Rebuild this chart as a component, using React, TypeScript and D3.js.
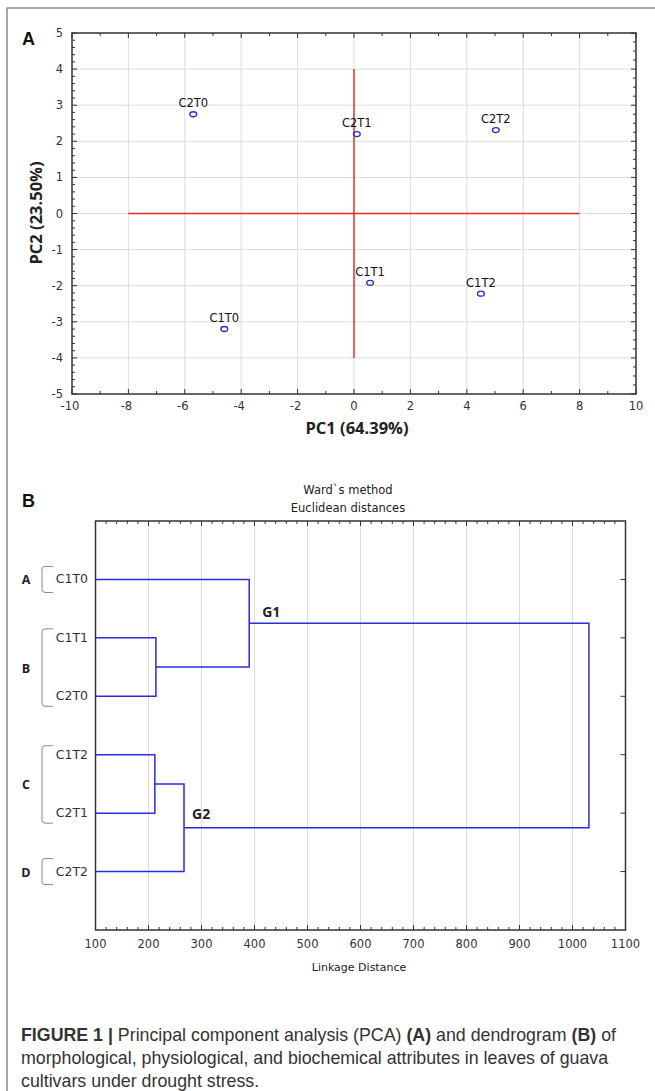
import React, { useEffect, useRef } from 'react';
import * as d3 from 'd3';

// PCA scores (panel A)
const pcaLabels = ['C2T0', 'C2T1', 'C2T2', 'C1T1', 'C1T2', 'C1T0'];
const pc1 = [-5.7, 0.1, 5.03, 0.57, 4.5, -4.6];
const pc2 = [2.75, 2.2, 2.31, -1.92, -2.22, -3.2];
const pcaXTicks = [-10, -8, -6, -4, -2, 0, 2, 4, 6, 8, 10];
const pcaYTicks = [-5, -4, -3, -2, -1, 0, 1, 2, 3, 4, 5];

// dendrogram (panel B)
const leaves = ['C1T0', 'C1T1', 'C2T0', 'C1T2', 'C2T1', 'C2T2'];
const mergeIds = ['M1', 'G1', 'M3', 'G2', 'ROOT'];
const mergeLeft = ['C1T1', 'C1T0', 'C1T2', 'M3', 'G1'];
const mergeRight = ['C2T0', 'M1', 'C2T1', 'C2T2', 'G2'];
const mergeHeights = [214, 390, 212, 267, 1031];
const distTicks = [100, 200, 300, 400, 500, 600, 700, 800, 900, 1000, 1100];
const groupNames = ['A', 'B', 'C', 'D'];
const groupFirst = ['C1T0', 'C1T1', 'C1T2', 'C2T2'];
const groupLast = ['C1T0', 'C2T0', 'C2T1', 'C2T2'];

const tickFont = '"DejaVu Sans", Verdana, sans-serif';
const boldFont = '"Open Sans", sans-serif';

const App = () => {
  const svgRef = useRef<SVGSVGElement>(null);

  useEffect(() => {
    const svg = d3.select(svgRef.current);
    svg.selectAll('*').remove();

    svg.append('rect').attr('width', 655).attr('height', 1091).attr('fill', '#fff');

    // outer frame (top + left)
    svg.append('path')
      .attr('d', 'M7,1091 V8 H655')
      .attr('fill', 'none')
      .attr('stroke', '#8a8a8a')
      .attr('stroke-width', 1.5);

    // ---------------- Panel A ----------------
    const a = { left: 72, right: 636, top: 33, bottom: 394 };
    const x = d3.scaleLinear().domain([-10, 10]).range([a.left, a.right]);
    const y = d3.scaleLinear().domain([-5, 5]).range([a.bottom, a.top]);
    const gA = svg.append('g');

    // grid
    gA.selectAll('.vgrid').data(pcaXTicks.slice(1, -1)).enter().append('line')
      .attr('x1', d => x(d)).attr('x2', d => x(d))
      .attr('y1', a.top).attr('y2', a.bottom)
      .attr('stroke', '#dcdcdc').attr('stroke-width', 1);
    gA.selectAll('.hgrid').data(pcaYTicks.slice(1, -1)).enter().append('line')
      .attr('y1', d => y(d)).attr('y2', d => y(d))
      .attr('x1', a.left).attr('x2', a.right)
      .attr('stroke', '#dcdcdc').attr('stroke-width', 1);

    // minor / major ticks
    d3.range(-10, 10.01, 1).forEach(v => {
      const len = v % 2 === 0 ? 5 : 3;
      gA.append('line').attr('x1', x(v)).attr('x2', x(v)).attr('y1', a.bottom).attr('y2', a.bottom - len).attr('stroke', '#333');
      gA.append('line').attr('x1', x(v)).attr('x2', x(v)).attr('y1', a.top).attr('y2', a.top + len).attr('stroke', '#333');
    });
    d3.range(-5, 5.001, 0.2).forEach(v => {
      const len = Math.abs(v - Math.round(v)) < 0.01 ? 5 : 3;
      gA.append('line').attr('x1', a.left).attr('x2', a.left + len).attr('y1', y(v)).attr('y2', y(v)).attr('stroke', '#333');
    });
    d3.range(-5, 5.001, 0.25).forEach(v => {
      const len = Math.abs(v - Math.round(v)) < 0.01 ? 5 : 3;
      gA.append('line').attr('x1', a.right).attr('x2', a.right - len).attr('y1', y(v)).attr('y2', y(v)).attr('stroke', '#333');
    });

    // frame
    gA.append('rect')
      .attr('x', a.left).attr('y', a.top)
      .attr('width', a.right - a.left).attr('height', a.bottom - a.top)
      .attr('fill', 'none').attr('stroke', '#333').attr('stroke-width', 1.5);

    // red reference lines
    gA.append('line').attr('x1', x(-8)).attr('x2', x(8)).attr('y1', y(0)).attr('y2', y(0))
      .attr('stroke', '#e3262b').attr('stroke-width', 1.4);
    gA.append('line').attr('x1', x(0)).attr('x2', x(0)).attr('y1', y(-4)).attr('y2', y(4))
      .attr('stroke', '#e3262b').attr('stroke-width', 1.4);

    // tick labels
    gA.selectAll('.xl').data(pcaXTicks).enter().append('text')
      .attr('x', d => x(d) + (d < 0 ? -2 : 0)).attr('y', a.bottom + 16)
      .attr('text-anchor', 'middle')
      .style('font-family', tickFont).style('font-size', '11.5px').style('fill', '#333')
      .text(d => d);
    gA.selectAll('.yl').data(pcaYTicks).enter().append('text')
      .attr('x', a.left - 9).attr('y', d => y(d) + 4)
      .attr('text-anchor', 'end')
      .style('font-family', tickFont).style('font-size', '11.5px').style('fill', '#333')
      .text(d => d);

    // points
    const pts = gA.selectAll('.pt').data(pcaLabels).enter().append('g');
    pts.append('ellipse')
      .attr('cx', (d, i) => x(pc1[i])).attr('cy', (d, i) => y(pc2[i]))
      .attr('rx', 3.4).attr('ry', 2.5)
      .attr('fill', 'none').attr('stroke', '#2a2ad8').attr('stroke-width', 1.3);
    pts.append('text')
      .attr('x', (d, i) => x(pc1[i])).attr('y', (d, i) => y(pc2[i]) - 7)
      .attr('text-anchor', 'middle')
      .style('font-family', tickFont).style('font-size', '11.5px').style('fill', '#111')
      .text(d => d);

    // axis titles
    svg.append('text')
      .attr('x', 357).attr('y', 434)
      .attr('text-anchor', 'middle')
      .style('font-family', boldFont).style('font-weight', 'bold').style('font-size', '16.5px').style('fill', '#222')
      .text('PC1 (64.39%)');
    svg.append('text')
      .attr('transform', 'translate(42,213) rotate(-90)')
      .attr('text-anchor', 'middle')
      .style('font-family', boldFont).style('font-weight', 'bold').style('font-size', '16.5px').style('fill', '#222')
      .text('PC2 (23.50%)');
    svg.append('text')
      .attr('x', 22).attr('y', 45)
      .style('font-family', '"Liberation Sans", Arial, sans-serif').style('font-weight', 'bold').style('font-size', '18px').style('fill', '#111')
      .text('A');

    // ---------------- Panel B ----------------
    const b = { left: 95.5, right: 625.5, top: 521, bottom: 930 };
    const xB = d3.scaleLinear().domain([100, 1100]).range([b.left, b.right]);
    const yB = d3.scalePoint<string>().domain(leaves).range([b.top, b.bottom]).padding(1);
    const gB = svg.append('g');

    gB.selectAll('.bgrid').data(distTicks.slice(1, -1)).enter().append('line')
      .attr('x1', d => xB(d)).attr('x2', d => xB(d))
      .attr('y1', b.top).attr('y2', b.bottom)
      .attr('stroke', '#dcdcdc').attr('stroke-width', 1);

    d3.range(100, 1100.1, 20).forEach(v => {
      const len = v % 100 === 0 ? 5 : 3;
      gB.append('line').attr('x1', xB(v)).attr('x2', xB(v)).attr('y1', b.top).attr('y2', b.top + len).attr('stroke', '#333');
      gB.append('line').attr('x1', xB(v)).attr('x2', xB(v)).attr('y1', b.bottom).attr('y2', b.bottom - len).attr('stroke', '#333');
    });
    leaves.forEach(l => {
      gB.append('line').attr('x1', b.right).attr('x2', b.right - 5).attr('y1', yB(l)).attr('y2', yB(l)).attr('stroke', '#333');
    });

    gB.append('rect')
      .attr('x', b.left).attr('y', b.top)
      .attr('width', b.right - b.left).attr('height', b.bottom - b.top)
      .attr('fill', 'none').attr('stroke', '#333').attr('stroke-width', 1.5);

    // tree
    const nodeX: Record<string, number> = {};
    const nodeY: Record<string, number> = {};
    leaves.forEach(l => { nodeX[l] = 100; nodeY[l] = yB(l) as number; });
    mergeIds.forEach((id, i) => {
      nodeX[id] = mergeHeights[i];
      nodeY[id] = (nodeY[mergeLeft[i]] + nodeY[mergeRight[i]]) / 2;
    });
    const links = mergeIds.map((id, i) => {
      const l = mergeLeft[i];
      const r = mergeRight[i];
      const mx = xB(nodeX[id]);
      return `M${xB(nodeX[l])},${nodeY[l]}H${mx}V${nodeY[r]}H${xB(nodeX[r])}`;
    });
    gB.selectAll('.link').data(links).enter().append('path')
      .attr('d', d => d)
      .attr('fill', 'none').attr('stroke', '#2b2be0').attr('stroke-width', 1.5);

    // labels
    gB.selectAll('.leaf').data(leaves).enter().append('text')
      .attr('x', 88).attr('y', d => (yB(d) as number) + 4)
      .attr('text-anchor', 'end')
      .style('font-family', tickFont).style('font-size', '12.5px').style('fill', '#333')
      .text(d => d);
    gB.selectAll('.xbl').data(distTicks).enter().append('text')
      .attr('x', d => xB(d)).attr('y', b.bottom + 18)
      .attr('text-anchor', 'middle')
      .style('font-family', tickFont).style('font-size', '11.5px').style('fill', '#333')
      .text(d => d);

    gB.append('text').attr('x', xB(nodeX['G1']) + 13).attr('y', nodeY['G1'] - 6)
      .style('font-family', boldFont).style('font-weight', 'bold').style('font-size', '14px').style('fill', '#222')
      .text('G1');
    gB.append('text').attr('x', xB(nodeX['G2']) + 8).attr('y', nodeY['G2'] - 9)
      .style('font-family', boldFont).style('font-weight', 'bold').style('font-size', '14px').style('fill', '#222')
      .text('G2');

    // group brackets
    groupNames.forEach((g, i) => {
      const single = groupFirst[i] === groupLast[i];
      const y0 = (yB(groupFirst[i]) as number) - (single ? 13 : 9);
      const y1 = (yB(groupLast[i]) as number) + (single ? 13 : 10);
      gB.append('path')
        .attr('d', `M53,${y0} H45 Q42,${y0} 42,${y0 + 3} V${y1 - 3} Q42,${y1} 45,${y1} H53`)
        .attr('fill', 'none').attr('stroke', '#888').attr('stroke-width', 1);
      gB.append('text')
        .attr('x', 26).attr('y', (y0 + y1) / 2 + 5)
        .attr('text-anchor', 'middle')
        .style('font-family', boldFont).style('font-weight', 'bold').style('font-size', '12.5px').style('fill', '#222')
        .text(g);
    });

    svg.append('text').attr('x', 348).attr('y', 494).attr('text-anchor', 'middle')
      .style('font-family', tickFont).style('font-size', '11.5px').style('fill', '#222')
      .text('Ward`s method');
    svg.append('text').attr('x', 348).attr('y', 512).attr('text-anchor', 'middle')
      .style('font-family', tickFont).style('font-size', '11.5px').style('fill', '#222')
      .text('Euclidean distances');
    svg.append('text').attr('x', 359).attr('y', 971).attr('text-anchor', 'middle')
      .style('font-family', tickFont).style('font-size', '11px').style('fill', '#222')
      .text('Linkage Distance');
    svg.append('text')
      .attr('x', 22).attr('y', 507)
      .style('font-family', '"Liberation Sans", Arial, sans-serif').style('font-weight', 'bold').style('font-size', '18px').style('fill', '#111')
      .text('B');

    // caption
    const cap = svg.append('text')
      .style('font-family', '"Liberation Sans", Arial, sans-serif').style('font-size', '17.8px').style('fill', '#333');
    const l1 = cap.append('tspan').attr('x', 21).attr('y', 1041);
    l1.append('tspan').style('font-weight', 'bold').text('FIGURE 1 |');
    l1.append('tspan').text(' Principal component analysis (PCA) ');
    l1.append('tspan').style('font-weight', 'bold').text('(A)');
    l1.append('tspan').text(' and dendrogram ');
    l1.append('tspan').style('font-weight', 'bold').text('(B)');
    l1.append('tspan').text(' of');
    cap.append('tspan').attr('x', 21).attr('y', 1064)
      .text('morphological, physiological, and biochemical attributes in leaves of guava');
    cap.append('tspan').attr('x', 21).attr('y', 1087)
      .text('cultivars under drought stress.');
  }, []);

  return (
    <svg
      ref={svgRef}
      width={655}
      height={1091}
      style={{ position: 'absolute', left: 0, top: 0 }}
    />
  );
};

export default App;
